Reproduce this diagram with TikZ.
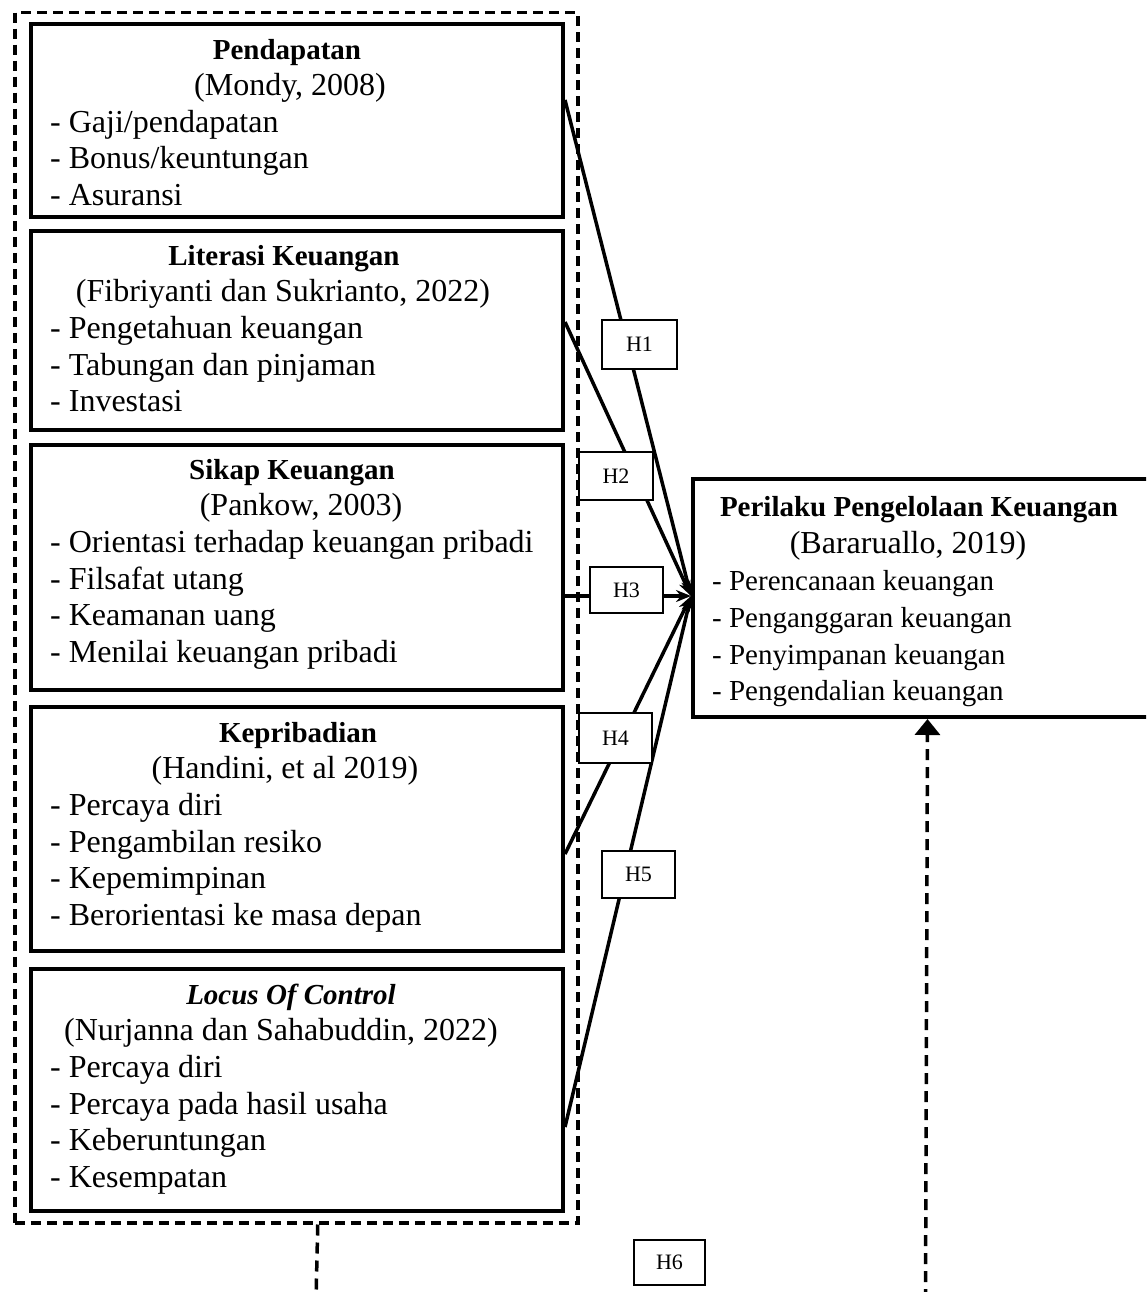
\documentclass[tikz,border=0pt]{standalone}
\usepackage{fontspec}
\setmainfont{Liberation Serif}
\usetikzlibrary{arrows.meta}
\tikzset{
  box/.style={draw, line width=4pt, rectangle, inner sep=0pt, anchor=north west},
  grpbox/.style={draw, line width=3.5pt, dash pattern=on 10pt off 6pt, rectangle, inner sep=0pt, anchor=north west},
  ttl/.style={font=\fontsize{29}{35}\selectfont\bfseries, anchor=base, inner sep=0pt},
  cite/.style={font=\fontsize{32}{37}\selectfont, anchor=base, inner sep=0pt},
  itm/.style={font=\fontsize{32}{37}\selectfont, anchor=base west, inner sep=0pt},
  itms/.style={font=\fontsize{29}{35}\selectfont, anchor=base west, inner sep=0pt},
  hyp/.style={draw, line width=2pt, fill=white, font=\fontsize{22}{26}\selectfont, inner sep=0pt, minimum width=74pt, minimum height=48pt},
  link/.style={line width=3.5pt, -{Stealth[length=15pt,width=12pt]}},
  dashline/.style={line width=3.5pt, dash pattern=on 11pt off 7pt},
}
\begin{document}
\begin{tikzpicture}[x=1pt,y=-1pt]
\useasboundingbox (0,0) rectangle (1146,1292);
\clip (0,0) rectangle (1146,1292);

% left boxes
\node[box, minimum width=532pt, minimum height=193pt] (b1) at (29,22) {};
\node[box, minimum width=532pt, minimum height=199pt] (b2) at (29,229) {};
\node[box, minimum width=532pt, minimum height=245pt] (b3) at (29,443) {};
\node[box, minimum width=532pt, minimum height=244pt] (b4) at (29,705) {};
\node[box, minimum width=532pt, minimum height=242pt] (b5) at (29,967) {};
\node[grpbox, minimum width=563pt, minimum height=1210pt] (grp) at (13,11) {};

% right box
\node[box, minimum width=469pt, minimum height=238pt] (rb) at (691,477) {};

% box 1
\node[ttl] (t1) at (287,60) {Pendapatan};
\node[cite] (c1) at (290,96) {(Mondy, 2008)};
\node[itm] (i11) at (50,132.5) {- Gaji/pendapatan};
\node[itm] (i12) at (50,169) {- Bonus/keuntungan};
\node[itm] (i13) at (50,205.5) {- Asuransi};

% box 2
\node[ttl] (t2) at (284,265) {Literasi Keuangan};
\node[cite] (c2) at (283,301.5) {(Fibriyanti dan Sukrianto, 2022)};
\node[itm] (i21) at (50,338.5) {- Pengetahuan keuangan};
\node[itm] (i22) at (50,375) {- Tabungan dan pinjaman};
\node[itm] (i23) at (50,411.5) {- Investasi};

% box 3
\node[ttl] (t3) at (292,479) {Sikap Keuangan};
\node[cite] (c3) at (301,515.5) {(Pankow, 2003)};
\node[itm] (i31) at (50,552.5) {- Orientasi terhadap keuangan pribadi};
\node[itm] (i32) at (50,589) {- Filsafat utang};
\node[itm] (i33) at (50,625.5) {- Keamanan uang};
\node[itm] (i34) at (50,662.5) {- Menilai keuangan pribadi};

% box 4
\node[ttl] (t4) at (298,742) {Kepribadian};
\node[cite] (c4) at (285,778.5) {(Handini, et al 2019)};
\node[itm] (i41) at (50,815.5) {- Percaya diri};
\node[itm] (i42) at (50,852) {- Pengambilan resiko};
\node[itm] (i43) at (50,888.5) {- Kepemimpinan};
\node[itm] (i44) at (50,925.5) {- Berorientasi ke masa depan};

% box 5
\node[ttl] (t5) at (291,1004) {\textit{Locus Of Control}};
\node[cite] (c5) at (281,1040.5) {(Nurjanna dan Sahabuddin, 2022)};
\node[itm] (i51) at (50,1077.5) {- Percaya diri};
\node[itm] (i52) at (50,1114) {- Percaya pada hasil usaha};
\node[itm] (i53) at (50,1150.5) {- Keberuntungan};
\node[itm] (i54) at (50,1187.5) {- Kesempatan};

% right box text
\node[ttl] (tr) at (919,516) {Perilaku Pengelolaan Keuangan};
\node[cite] (cr) at (908,553) {(Bararuallo, 2019)};
\node[itms] (ir1) at (712,590) {- Perencanaan keuangan};
\node[itms] (ir2) at (712,627) {- Penganggaran keuangan};
\node[itms] (ir3) at (712,664) {- Penyimpanan keuangan};
\node[itms] (ir4) at (712,700) {- Pengendalian keuangan};

% connectors
\coordinate (conv) at ([yshift=2pt]rb.west);
\draw[link] ([yshift=20.5pt]b1.east) -- (conv);
\draw[link] ([yshift=8.5pt]b2.east) -- (conv);
\draw[link] ([yshift=-28.5pt]b3.east) -- (conv);
\draw[link] ([yshift=-25pt]b4.east) -- (conv);
\draw[link] ([yshift=-37pt]b5.east) -- (conv);

% dashed links at bottom
\coordinate (stubend) at (316,1300);
\coordinate (upstart) at (925.5,1300);
\draw[dashline] ([xshift=21.5pt]grp.south) -- (stubend);
\draw[dashline, -{Triangle[length=16pt,width=25pt]}] (upstart) -- (rb.south);

% hypothesis labels
\node[hyp, minimum width=75pt, minimum height=49pt] (h1) at (639.5,344.5) {H1};
\node[hyp] (h2) at (616,476) {H2};
\node[hyp, minimum width=73pt, minimum height=46pt] (h3) at (626.5,590) {H3};
\node[hyp, minimum width=73pt, minimum height=50pt] (h4) at (615.5,738) {H4};
\node[hyp, minimum width=73pt, minimum height=47pt] (h5) at (638.5,874.5) {H5};
\node[hyp, minimum width=71pt, minimum height=45pt] (h6) at (669.5,1262.5) {H6};
\end{tikzpicture}
\end{document}
